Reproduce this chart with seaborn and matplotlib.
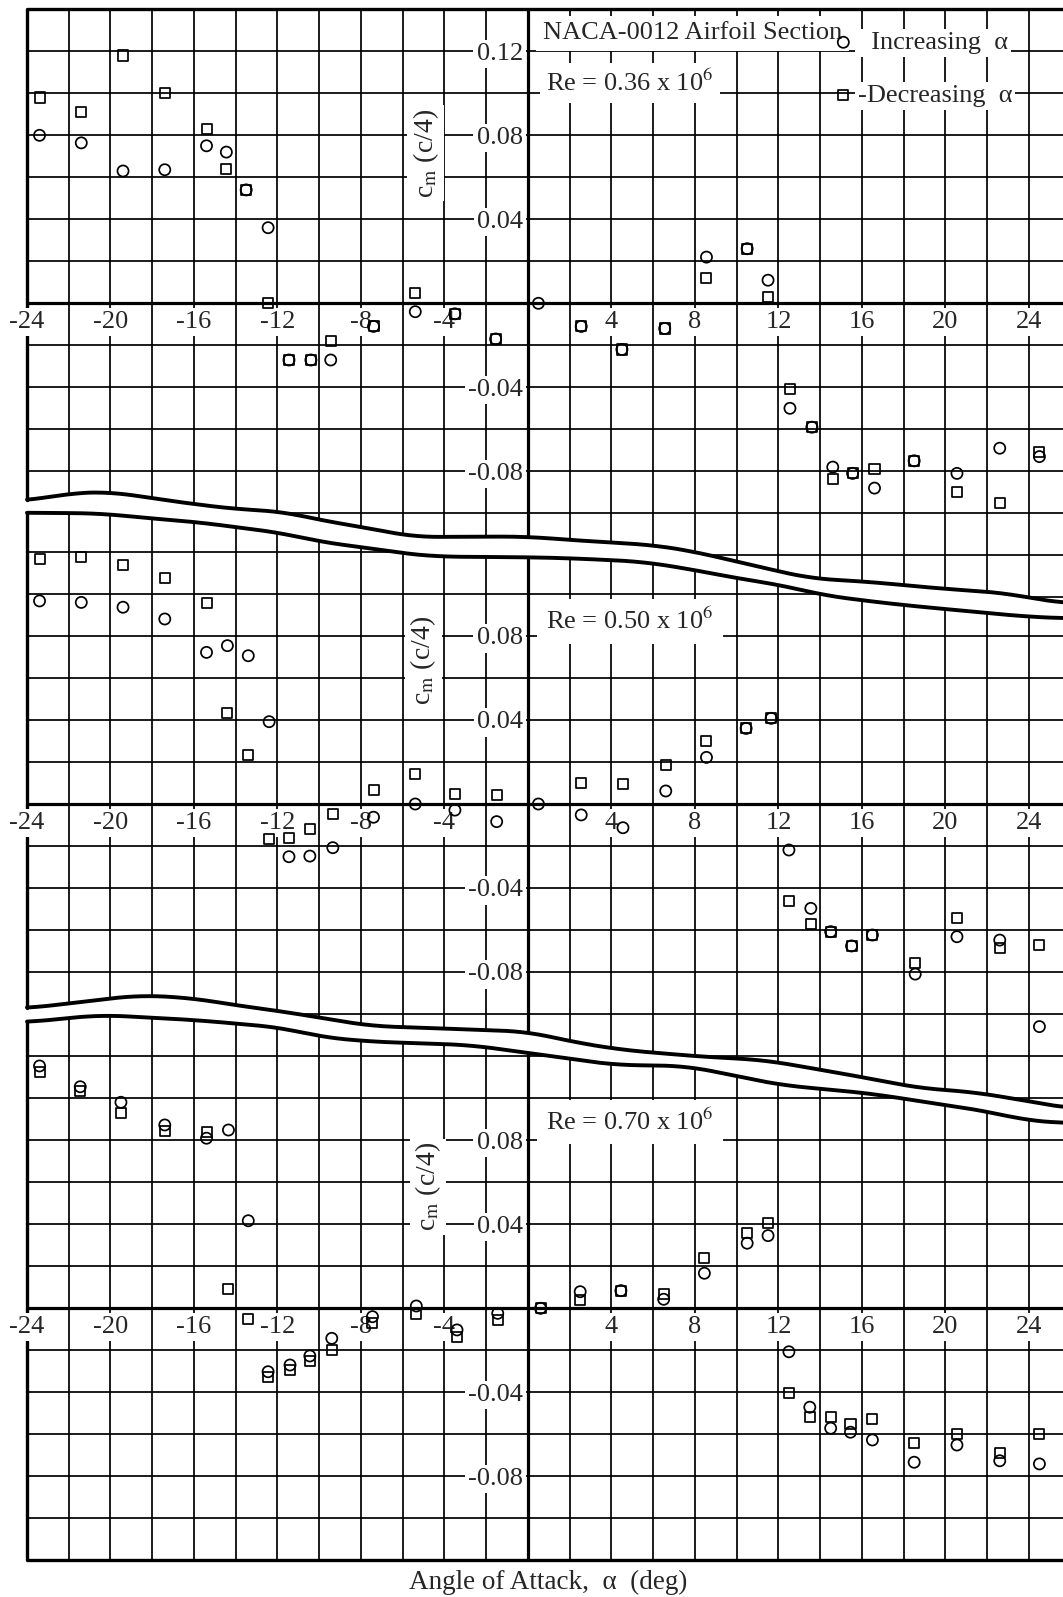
import numpy as np
import pandas as pd
import matplotlib
matplotlib.use("Agg")
import matplotlib.pyplot as plt
from matplotlib.patches import Polygon
import seaborn as sns

# NACA-0012, quarter-chord pitching moment
# Re = 0.36 x 10^6
alpha_036 = [-23.4, -21.4, -19.4, -17.4, -15.4, -14.45, -13.5, -12.45, -11.45, -10.4,
             -9.45, -7.4, -5.4, -3.5, -1.55, 0.5, 2.55, 4.5, 6.55, 8.55, 10.5, 11.5,
             12.55, 13.6, 14.6, 15.55, 16.6, 18.5, 20.55, 22.6, 24.5]
inc_036 = [0.080, 0.0764, 0.063, 0.0636, 0.075, 0.072, 0.054, 0.036, -0.027, -0.027,
           -0.027, -0.011, -0.004, -0.005, -0.017, 0.0, -0.011, -0.022, -0.012, 0.022,
           0.026, 0.011, -0.050, -0.059, -0.078, -0.081, -0.088, -0.075, -0.081, -0.069,
           -0.073]
dec_036 = [0.098, 0.091, 0.118, 0.100, 0.083, 0.064, 0.054, 0.0, -0.027, -0.027,
           -0.018, -0.011, 0.005, -0.005, -0.017, np.nan, -0.011, -0.022, -0.012, 0.012,
           0.026, 0.003, -0.041, -0.059, -0.0835, -0.081, -0.079, -0.075, -0.090, -0.095,
           -0.071]

# Re = 0.50 x 10^6
alpha_050 = [-23.4, -21.4, -19.4, -17.4, -15.4, -14.4, -13.4, -12.4, -11.45, -10.45,
             -9.35, -7.4, -5.4, -3.5, -1.5, 0.5, 2.55, 4.55, 6.6, 8.55, 10.45, 11.65,
             12.5, 13.55, 14.5, 15.5, 16.5, 18.55, 20.55, 22.6, 24.5]
inc_050 = [0.0967, 0.096, 0.0937, 0.0881, 0.0722, 0.0754, 0.0706, 0.0392, -0.0251, -0.0248,
           -0.0208, -0.0063, 0.0, -0.0029, -0.0084, 0.0, -0.0052, -0.0113, 0.0062, 0.0222,
           0.036, 0.0408, -0.0219, -0.0497, -0.0608, -0.0676, -0.0624, -0.081, -0.0632,
           -0.0648, -0.106]
dec_050 = [0.1167, 0.1178, 0.114, 0.1075, 0.0956, 0.0435, 0.0233, -0.0168, -0.0163, -0.012,
           -0.0049, 0.0067, 0.0143, 0.0048, 0.0043, np.nan, 0.0101, 0.0095, 0.0186, 0.0302,
           0.036, 0.0408, -0.046, -0.057, -0.0608, -0.0676, -0.0624, -0.0759, -0.0544,
           -0.0687, -0.0671]

# Re = 0.70 x 10^6
alpha_070 = [-23.4, -21.45, -19.5, -17.4, -15.4, -14.35, -13.4, -12.45, -11.4, -10.45,
             -9.4, -7.45, -5.35, -3.4, -1.45, 0.6, 2.5, 4.45, 6.5, 8.45, 10.5, 11.5,
             12.5, 13.5, 14.5, 15.45, 16.5, 18.5, 20.55, 22.6, 24.5]
inc_070 = [0.1154, 0.1055, 0.0981, 0.0873, 0.081, 0.0849, 0.0417, -0.0302, -0.027, -0.0227,
           -0.0143, -0.004, 0.0011, -0.0103, -0.0024, 0.0, 0.0079, 0.0084, 0.0043, 0.0167,
           0.031, 0.0346, -0.0207, -0.0471, -0.0571, -0.059, -0.0627, -0.0733, -0.0651,
           -0.0726, -0.0741]
dec_070 = [0.1127, 0.1036, 0.0931, 0.0846, 0.0841, 0.0092, -0.0051, -0.0329, -0.0294, -0.025,
           -0.0199, -0.0071, -0.0029, -0.0135, -0.0056, 0.0, 0.004, 0.0084, 0.0068, 0.0238,
           0.0357, 0.0405, -0.0405, -0.0516, -0.0516, -0.0551, -0.0529, -0.0643, -0.0599,
           -0.0688, -0.0599]

xtick_vals = [-24, -20, -16, -12, -8, -4, 4, 8, 12, 16, 20, 24]
ytick_top = [0.12, 0.08, 0.04, -0.04, -0.08]
ytick_rest = [0.08, 0.04, -0.04, -0.08]

# wavy break lines between the panels (panel data coordinates)
brk1_x = [-24, -22, -20, -18, -16, -14, -11.7, -10, -7.6, -5.5, -2, 0, 2, 6, 8, 10,
          13.5, 16.3, 19.6, 22.9, 24.6, 25.8]
brk1_y = [-0.0941, -0.0905, -0.0897, -0.0929, -0.0956, -0.098, -0.0992, -0.1032, -0.1071,
          -0.1113, -0.1111, -0.1111, -0.1127, -0.1151, -0.1183, -0.123, -0.131, -0.1326,
          -0.1357, -0.138, -0.1413, -0.1429]
brk2_x = [-24, -20.5, -18.1, -16, -14.1, -11.7, -10, -7.6, -6, -4.4, 0, 2.1, 5.5, 8, 10,
          12.1, 14.1, 15.6, 17.9, 21.3, 23.9, 25.8]
brk2_y = [0.1387, 0.1384, 0.136, 0.1344, 0.132, 0.1289, 0.1249, 0.1218, 0.1194, 0.1178,
          0.1175, 0.117, 0.1154, 0.1114, 0.1075, 0.1043, 0.0995, 0.0975, 0.0948, 0.0916,
          0.0892, 0.0884]
brk3_x = [-24, -18.6, -16, -14.1, -11.7, -9.25, -7.6, -4.4, 0, 2.1, 4.5, 8.3, 11.3, 14.1,
          16.3, 18.8, 21.2, 23.7, 25.8]
brk3_y = [-0.0973, -0.091, -0.0925, -0.0957, -0.0989, -0.1029, -0.1057, -0.1068, -0.1084,
          -0.1132, -0.1171, -0.1203, -0.1219, -0.1267, -0.1306, -0.1354, -0.137, -0.141,
          -0.1449]
brk4_x = [-24, -20.5, -16, -14.1, -11.7, -10, -7.6, -2.8, 0, 4.1, 7.6, 12.1, 16.3, 22.1,
          23.7, 25.8]
brk4_y = [0.1362, 0.1397, 0.1373, 0.1357, 0.1335, 0.1293, 0.127, 0.1254, 0.1216, 0.1159,
          0.1154, 0.1063, 0.1024, 0.0936, 0.0897, 0.0881]

sns.set_style("white")
plt.rcParams["font.family"] = ["Liberation Serif", "DejaVu Serif"]
plt.rcParams["mathtext.fontset"] = "stix"

W, H = 1063, 1597
fig = plt.figure(figsize=(W / 100, H / 100), dpi=100)

XMIN, XMAX = -24, 25.63
LEFT_PX, RIGHT_PX = 27, 1063
SCALE = 2100.0  # pixels per unit of cm
FS = 19
white_box = dict(boxstyle="square,pad=0.12", fc="white", ec="none")


def smooth(xs, ys, n=400, k=21):
    # hand-drawn look for the break lines
    xd = np.linspace(xs[0], xs[-1], n)
    yd = np.interp(xd, xs, ys)
    yp = np.pad(yd, k // 2, mode="edge")
    return xd, np.convolve(yp, np.ones(k) / k, mode="valid")


brk1_x, brk1_y = smooth(brk1_x, brk1_y)
brk2_x, brk2_y = smooth(brk2_x, brk2_y)
brk3_x, brk3_y = smooth(brk3_x, brk3_y)
brk4_x, brk4_y = smooth(brk4_x, brk4_y)


def make_axes(zero_px, ylo, yhi):
    top = zero_px - yhi * SCALE
    bot = zero_px - ylo * SCALE
    ax = fig.add_axes([LEFT_PX / W, 1 - bot / H, (RIGHT_PX - LEFT_PX) / W, (bot - top) / H])
    ax.set_xlim(XMIN, XMAX)
    ax.set_ylim(ylo, yhi)
    ax.set_axis_off()
    return ax


def draw_grid(ax, verts, ylo, yhi):
    clip = Polygon(verts, closed=True, transform=ax.transData)
    xs = [x for x in range(-22, 26, 2) if x != 0]
    ys = [round(v, 2) for v in np.arange(-0.14, 0.141, 0.02) if abs(v) > 1e-9]
    thin_v = ax.vlines(xs, ylo, yhi, colors="black", lw=1.25, zorder=1)
    thin_h = ax.hlines(ys, XMIN, XMAX + 1, colors="black", lw=1.25, zorder=1)
    axis_v = ax.vlines([0], ylo, yhi, colors="black", lw=2.3, zorder=1.5)
    axis_h = ax.hlines([0], XMIN, XMAX + 1, colors="black", lw=2.3, zorder=1.5)
    for coll in (thin_v, thin_h, axis_v, axis_h):
        coll.set_clip_path(clip)


def edge(ax, xs, ys, lw=2.4):
    ax.plot(xs, ys, color="black", lw=lw, clip_on=False, zorder=2.5,
            solid_joinstyle="round")


def tick_labels(ax, yticks):
    for v in xtick_vals:
        ax.text(v, -0.009, str(v), ha="center", va="center", fontsize=FS,
                bbox=white_box, zorder=3)
    for v in yticks:
        ax.text(-0.25, v, f"{v:.2f}", ha="right", va="center_baseline", fontsize=FS,
                bbox=white_box, zorder=3)


def points(ax, alpha, inc, dec):
    df = pd.DataFrame({"alpha": alpha, "inc": inc, "dec": dec})
    sns.scatterplot(data=df, x="alpha", y="inc", marker="o", s=64, facecolors="none",
                    edgecolor="black", linewidth=1.25, zorder=5, legend=False,
                    label="  Increasing  \u03b1", ax=ax)
    sns.scatterplot(data=df, x="alpha", y="dec", marker="s", s=52, facecolors="none",
                    edgecolor="black", linewidth=1.25, zorder=5, legend=False,
                    label="-Decreasing  \u03b1", ax=ax)


def ylabel(ax, x, y):
    ax.text(x, y, "c$_{\\rm m}$ (c/4)", rotation=90, ha="center", va="center",
            fontsize=20, bbox=white_box, zorder=3)


# ---- top panel, Re = 0.36e6 ----
ax1 = make_axes(303.3, -0.15, 0.14)
v1 = ([(XMIN - 1, 0.15), (XMAX + 1, 0.15), (XMAX + 1, brk1_y[-1])]
      + list(zip(brk1_x, brk1_y))[::-1] + [(XMIN - 1, brk1_y[0])])
draw_grid(ax1, v1, -0.15, 0.14)
edge(ax1, [XMIN, XMIN, XMAX + 1], [brk1_y[0], 0.14, 0.14])
edge(ax1, brk1_x, brk1_y, lw=2.8)
tick_labels(ax1, ytick_top)
points(ax1, alpha_036, inc_036, dec_036)
ylabel(ax1, -4.9, 0.0716)
ax1.text(0.72, 0.1257, "NACA-0012 Airfoil Section", fontsize=FS, va="baseline",
         bbox=dict(boxstyle="square,pad=0.25", fc="white", ec="none"), zorder=3)
ax1.text(0.88, 0.101, "Re = 0.36 x 10$^{6}$", fontsize=FS, va="baseline",
         bbox=dict(boxstyle="square,pad=0.25", fc="white", ec="none"), zorder=3)
handles, labels = ax1.get_legend_handles_labels()
leg = ax1.legend(handles, labels, loc="upper left", bbox_to_anchor=(14.6, 0.1298),
                 bbox_transform=ax1.transData, frameon=False, fontsize=FS,
                 handlelength=0.8, handletextpad=0.15, borderpad=0, borderaxespad=0,
                 labelspacing=1.12)
for t in leg.get_texts():
    t.set_bbox(dict(fc="white", ec="none", pad=2))

# ---- middle panel, Re = 0.50e6 ----
ax2 = make_axes(804.0, -0.15, 0.14)
v2 = ([(XMIN - 1, brk2_y[0])] + list(zip(brk2_x, brk2_y))
      + [(XMAX + 1, brk2_y[-1]), (XMAX + 1, brk3_y[-1])]
      + list(zip(brk3_x, brk3_y))[::-1] + [(XMIN - 1, brk3_y[0])])
draw_grid(ax2, v2, -0.15, 0.14)
edge(ax2, [XMIN, XMIN], [brk3_y[0], brk2_y[0]])
edge(ax2, brk2_x, brk2_y, lw=2.8)
edge(ax2, brk3_x, brk3_y, lw=2.8)
tick_labels(ax2, ytick_rest)
points(ax2, alpha_050, inc_050, dec_050)
ylabel(ax2, -5.0, 0.0686)
ax2.text(0.88, 0.0832, "Re = 0.50 x 10$^{6}$", fontsize=FS, va="baseline",
         bbox=dict(boxstyle="square,pad=0.35", fc="white", ec="none"), zorder=3)

# ---- bottom panel, Re = 0.70e6 ----
ax3 = make_axes(1308.3, -0.12, 0.14)
v3 = ([(XMIN - 1, brk4_y[0])] + list(zip(brk4_x, brk4_y))
      + [(XMAX + 1, brk4_y[-1]), (XMAX + 1, -0.13), (XMIN - 1, -0.13)])
draw_grid(ax3, v3, -0.12, 0.14)
edge(ax3, [XMIN, XMIN, XMAX + 1], [brk4_y[0], -0.12, -0.12])
edge(ax3, brk4_x, brk4_y, lw=2.8)
tick_labels(ax3, ytick_rest)
points(ax3, alpha_070, inc_070, dec_070)
ylabel(ax3, -4.78, 0.0578)
ax3.text(0.88, 0.0849, "Re = 0.70 x 10$^{6}$", fontsize=FS, va="baseline",
         bbox=dict(boxstyle="square,pad=0.35", fc="white", ec="none"), zorder=3)

fig.text(548 / W, 1 - 1582 / H, "Angle of Attack,  \u03b1  (deg)", ha="center",
         va="center", fontsize=19.5)

fig.savefig("out.png", dpi=100, facecolor="white")
